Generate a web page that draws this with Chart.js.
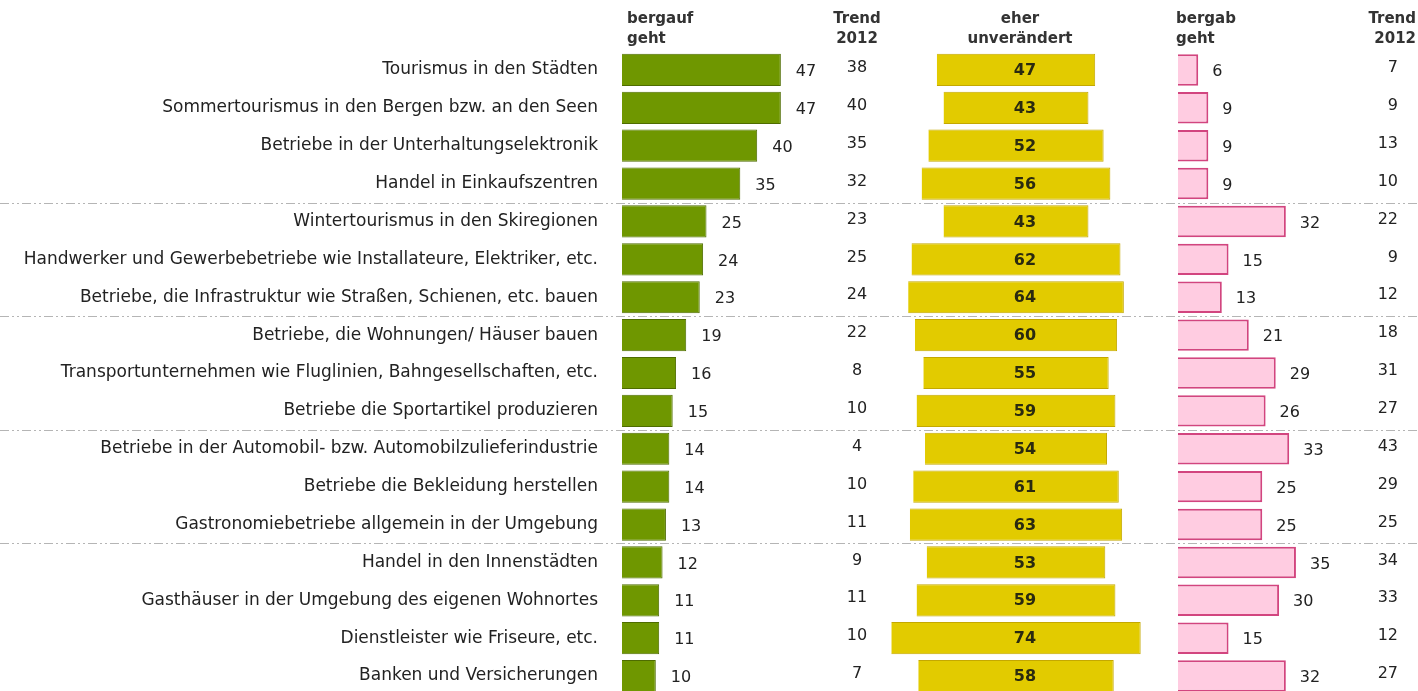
<!DOCTYPE html>
<html><head><meta charset="utf-8">
<script src="https://cdn.jsdelivr.net/npm/chart.js@4"></script>
<style>html,body{margin:0;padding:0;background:#fff;overflow:hidden}
#wrap{position:relative;width:1418px;height:720px}</style>
</head><body><div id="wrap"><canvas id="c" width="1418" height="720"></canvas></div>
<script>
const categories = [
  "Tourismus in den Städten",
  "Sommertourismus in den Bergen bzw. an den Seen",
  "Betriebe in der Unterhaltungselektronik",
  "Handel in Einkaufszentren",
  "Wintertourismus in den Skiregionen",
  "Handwerker und Gewerbebetriebe wie Installateure, Elektriker, etc.",
  "Betriebe, die Infrastruktur wie Straßen, Schienen, etc. bauen",
  "Betriebe, die Wohnungen/ Häuser bauen",
  "Transportunternehmen wie Fluglinien, Bahngesellschaften, etc.",
  "Betriebe die Sportartikel produzieren",
  "Betriebe in der Automobil- bzw. Automobilzulieferindustrie",
  "Betriebe die Bekleidung herstellen",
  "Gastronomiebetriebe allgemein in der Umgebung",
  "Handel in den Innenstädten",
  "Gasthäuser in der Umgebung des eigenen Wohnortes",
  "Dienstleister wie Friseure, etc.",
  "Banken und Versicherungen"
];
const bergauf          = [47,47,40,35,25,24,23,19,16,15,14,14,13,12,11,11,10];
const trendBergauf2012 = [38,40,35,32,23,25,24,22, 8,10, 4,10,11, 9,11,10, 7];
const unveraendert     = [47,43,52,56,43,62,64,60,55,59,54,61,63,53,59,74,58];
const bergab           = [ 6, 9, 9, 9,32,15,13,21,29,26,33,25,25,35,30,15,32];
const trendBergab2012  = [ 7, 9,13,10,22, 9,12,18,31,27,43,29,25,34,33,12,27];
const headerBergauf = ["bergauf","geht"];
const headerTrend = ["Trend","2012"];
const headerUnv = ["eher","unverändert"];
const headerBergab = ["bergab","geht"];
const groupBreaks = [3,6,9,12];

const FONT = "'DejaVu Sans', sans-serif";
const TXT = '#222';

const overlay = {
  id: 'overlay',
  beforeDatasetsDraw(chart) {
    const ctx = chart.ctx, y = chart.scales.y;
    ctx.save();
    ctx.strokeStyle = '#b5b5b5'; ctx.lineWidth = 1;
    ctx.setLineDash([9,3,2,3,2,3]);
    groupBreaks.forEach(i => {
      const py = Math.round((y.getPixelForValue(i) + y.getPixelForValue(i+1)) / 2) + 0.5;
      ctx.beginPath(); ctx.moveTo(0, py); ctx.lineTo(chart.width, py); ctx.stroke();
    });
    ctx.restore();
  },
  afterDatasetsDraw(chart) {
    const ctx = chart.ctx, y = chart.scales.y;
    ctx.save();
    ctx.textBaseline = 'middle';
    ctx.font = '16px ' + FONT; ctx.fillStyle = TXT; ctx.textAlign = 'left';
    chart.getDatasetMeta(0).data.forEach((el, i) => {
      ctx.fillText(String(bergauf[i]), el.x + 15, el.y + 2);
    });
    ctx.textAlign = 'center';
    trendBergauf2012.forEach((v, i) => ctx.fillText(String(v), 857, y.getPixelForValue(i) - 2));
    ctx.font = 'bold 16px ' + FONT; ctx.fillStyle = '#2a2a10';
    chart.getDatasetMeta(1).data.forEach((el, i) => {
      ctx.fillText(String(unveraendert[i]), 1025, el.y + 1);
    });
    ctx.font = '16px ' + FONT; ctx.fillStyle = TXT; ctx.textAlign = 'left';
    chart.getDatasetMeta(2).data.forEach((el, i) => {
      ctx.fillText(String(bergab[i]), el.x + 14, el.y + 2);
    });
    ctx.textAlign = 'right';
    trendBergab2012.forEach((v, i) => ctx.fillText(String(v), 1398, y.getPixelForValue(i) - 2));
    ctx.font = 'bold 15px ' + FONT; ctx.fillStyle = '#333';
    const hdr = (lines, x, align) => {
      ctx.textAlign = align;
      lines.forEach((t, k) => ctx.fillText(t, x, 19 + k * 20));
    };
    hdr(headerBergauf, 627, 'left');
    hdr(headerTrend, 857, 'center');
    hdr(headerUnv, 1020, 'center');
    hdr(headerBergab, 1176, 'left');
    hdr(headerTrend, 1416, 'right');
    ctx.restore();
  }
};

new Chart(document.getElementById('c'), {
  type: 'bar',
  data: {
    labels: categories,
    datasets: [
      { data: bergauf, xAxisID: 'xg', backgroundColor: '#6f9700', borderColor: '#4e6c00', borderWidth: 1, grouped: false, barPercentage: 0.85, categoryPercentage: 1 },
      { data: unveraendert.map(v => [-v/2, v/2]), xAxisID: 'xy', backgroundColor: '#e2cb00', borderColor: '#c4a800', borderWidth: 1, grouped: false, barPercentage: 0.85, categoryPercentage: 1 },
      { data: bergab, xAxisID: 'xp', backgroundColor: '#ffcce1', borderColor: '#d2457f', borderWidth: 2, grouped: false, barPercentage: 0.83, categoryPercentage: 1 }
    ]
  },
  options: {
    indexAxis: 'y',
    responsive: false,
    animation: false,
    layout: { padding: { top: 51, bottom: 25, left: 0, right: 0 } },
    plugins: { legend: { display: false }, tooltip: { enabled: false } },
    scales: {
      y: {
        grid: { display: false, drawTicks: false }, border: { display: false },
        afterFit: s => { s.width = 610; },
        ticks: { padding: 12, color: TXT, font: { family: FONT, size: 17 } }
      },
      xg: { type: 'linear', display: false, min: -12/3.38, max: -12/3.38 + 808/3.38 },
      xy: { type: 'linear', display: false, min: -406/3.37, max: -406/3.37 + 808/3.37 },
      xp: { type: 'linear', display: false, min: -568/3.37, max: -568/3.37 + 808/3.37 }
    }
  },
  plugins: [overlay]
});
</script></body></html>
